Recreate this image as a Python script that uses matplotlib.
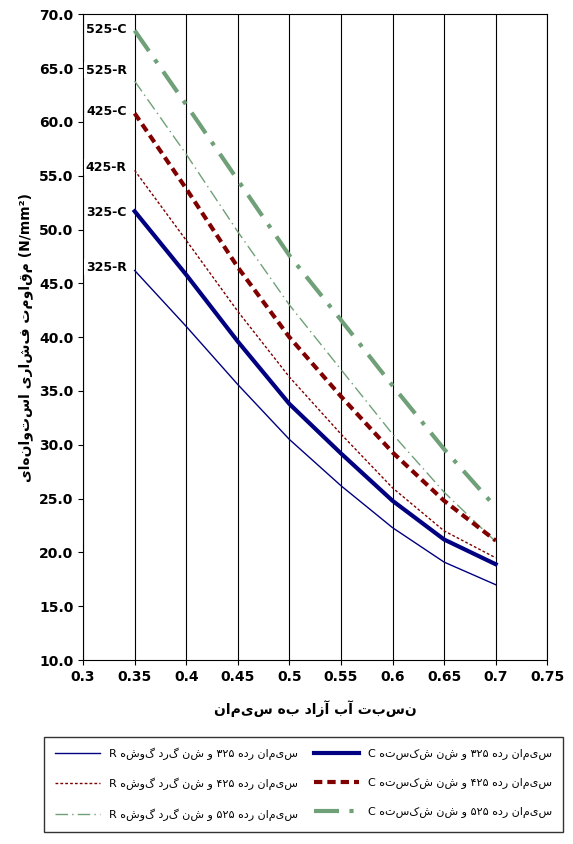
import matplotlib
matplotlib.use('Agg')
import matplotlib.pyplot as plt


def rtl(s):
    # crude visual ordering for Arabic-script text (no shaping available)
    out = []
    for tok in reversed(s.split(' ')):
        if tok.isdigit() or tok.isascii():
            out.append(tok)
        else:
            out.append(tok[::-1])
    return ' '.join(out)


x = [0.35, 0.4, 0.45, 0.5, 0.55, 0.6, 0.65, 0.7]
r325 = [46.2, 41.0, 35.6, 30.5, 26.2, 22.3, 19.1, 17.0]
c325 = [51.7, 45.8, 39.6, 33.8, 29.2, 24.8, 21.2, 18.9]
r425 = [55.5, 49.0, 42.4, 36.3, 31.0, 26.0, 22.0, 19.5]
c425 = [60.8, 53.8, 46.5, 40.0, 34.5, 29.3, 24.8, 21.1]
r525 = [63.8, 57.0, 49.8, 43.0, 37.0, 31.0, 25.6, 21.0]
c525 = [68.5, 61.6, 54.6, 47.6, 41.6, 35.5, 29.6, 24.2]

labels_r = ['سیمان رده ۳۲۵ و شن گرد گوشه R', 'سیمان رده ۴۲۵ و شن گرد گوشه R',
            'سیمان رده ۵۲۵ و شن گرد گوشه R']
labels_c = ['سیمان رده ۳۲۵ و شن شکسته C', 'سیمان رده ۴۲۵ و شن شکسته C',
            'سیمان رده ۵۲۵ و شن شکسته C']
tags = ['325-R', '325-C', '425-R', '425-C', '525-R', '525-C']
tag_y = [46.5, 51.6, 55.8, 61.0, 64.8, 68.6]

navy, red, green = '#000080', '#800000', '#6FA078'

fig = plt.figure(figsize=(5.73, 8.44), dpi=100)
ax = fig.add_axes([0.145, 0.218, 0.81, 0.765])

lines = []
lines += ax.plot(x, r325, color=navy, lw=1.0, ls='-')
lines += ax.plot(x, r425, color=red, lw=1.0, ls=(0, (2, 1.5)))
lines += ax.plot(x, r525, color=green, lw=1.0, ls=(0, (9, 3, 1, 3)))
lines += ax.plot(x, c325, color=navy, lw=3.0, ls='-')
lines += ax.plot(x, c425, color=red, lw=3.0, ls=(0, (2, 1.2)))
lines += ax.plot(x, c525, color=green, lw=3.0, ls=(0, (6, 2.5, 1, 2.5)))

for tag, ty in zip(tags, tag_y):
    ax.text(0.3225, ty, tag, fontsize=9, fontweight='bold', va='center', ha='center',
            bbox=dict(facecolor='white', edgecolor='none', pad=1))

ax.set_xlim(0.3, 0.75)
ax.set_ylim(10, 70)
ax.set_xticks([0.3, 0.35, 0.4, 0.45, 0.5, 0.55, 0.6, 0.65, 0.7, 0.75])
ax.set_xticklabels(['0.3', '0.35', '0.4', '0.45', '0.5', '0.55', '0.6', '0.65', '0.7', '0.75'])
ax.set_yticks(range(10, 71, 5))
ax.set_yticklabels(['%.1f' % v for v in range(10, 71, 5)])
ax.tick_params(labelsize=10)
for lbl in ax.get_xticklabels() + ax.get_yticklabels():
    lbl.set_fontweight('bold')
ax.grid(axis='x', color='black', lw=0.8)
ax.set_axisbelow(True)
ax.set_xlabel(rtl('نسبت آب آزاد به سیمان'), fontsize=10, fontweight='bold', labelpad=12)
ax.set_ylabel(rtl('مقاومت فشاری استوانه‌ای') + ' (N/mm²)', fontsize=10, fontweight='bold')

fig.legend(lines, [rtl(s) for s in labels_r + labels_c], ncol=2,
           loc='lower center', bbox_to_anchor=(0.53, 0.008), fontsize=8,
           frameon=True, fancybox=False, edgecolor='black', handlelength=4,
           columnspacing=1.5, labelspacing=1.6, borderpad=1.0)

plt.savefig('out.png', dpi=100)
